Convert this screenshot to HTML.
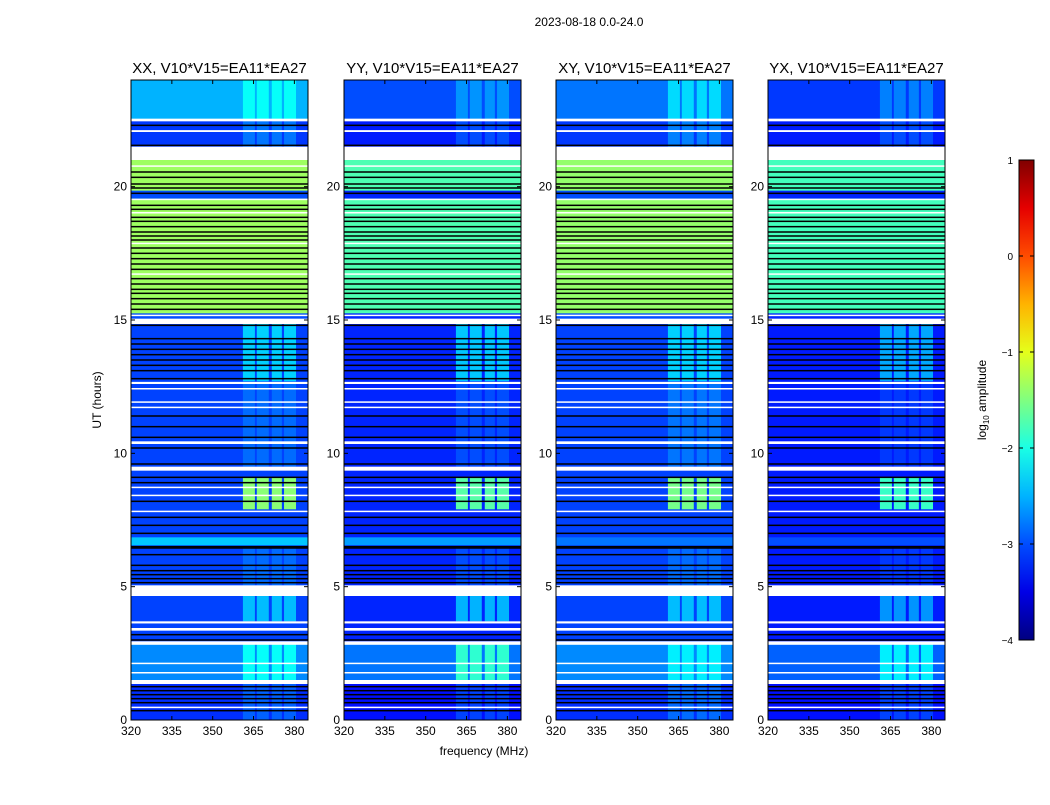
<!DOCTYPE html>
<html><head><meta charset="utf-8"><style>
body{margin:0;background:#fff;}
svg text{font-family:"Liberation Sans",sans-serif;}
</style></head><body>
<svg id="chart" width="1050" height="800" xmlns="http://www.w3.org/2000/svg">
<text x="589" y="26" font-size="12" text-anchor="middle">2023-08-18 0.0-24.0</text>
<text x="484" y="755" font-size="12" text-anchor="middle">frequency (MHz)</text>
<text x="101" y="400" font-size="12" text-anchor="middle" transform="rotate(-90 101 400)">UT (hours)</text>
</svg>
<script>
const panels=["XX, V10*V15=EA11*EA27","YY, V10*V15=EA11*EA27","XY, V10*V15=EA11*EA27","YX, V10*V15=EA11*EA27"];
const panelX=[131,344,556,768];
const xTicks=[320,335,350,365,380];
const yTicks=[0,5,10,15,20];
const cbTicks=[1,0,-1,-2,-3,-4];
// bands: [startHour,endHour, level XX, YY, XY, YX]
const bands=[
[0,24,-3.05,-3.2,-3.05,-3.25],
[22.5,24,-2.5,-3.0,-2.8,-3.1],
[21.5,22.5,-3.1,-3.25,-3.1,-3.25],
[15.2,21.0,-1.35,-1.75,-1.4,-1.8],
[19.55,19.85,-3.0,-3.2,-3.0,-3.2],
[15.0,15.25,-3.0,-3.2,-3.0,-3.2],
[6.55,6.85,-2.4,-2.6,-2.8,-3.0],
[1.5,2.9,-2.7,-2.8,-2.7,-2.9],
[0,1.4,-3.15,-3.3,-3.15,-3.3]
];
const gaps=[[22.45,22.55],[22.05,22.12],[21.0,21.5],[20.75,20.8],[19.5,19.55],[19.0,19.05],[17.85,17.9],[16.7,16.75],[15.15,15.2],[14.85,15.05],[12.6,12.68],[12.4,12.45],[11.9,11.95],[11.7,11.75],[10.35,10.45],[9.35,9.5],[8.7,8.75],[8.4,8.45],[7.8,7.85],[4.65,5.05],[3.62,3.7],[3.35,3.45],[2.82,2.95],[2.1,2.15],[1.75,1.8],[1.35,1.5],[0.45,0.5]];
const blackLines=[22.3,21.55,20.55,20.35,20.1,19.95,19.75,19.3,19.15,18.85,18.7,18.5,18.3,18.15,18.0,17.7,17.5,17.3,17.1,16.9,16.55,16.35,16.15,16.0,15.8,15.6,15.4,14.8,14.3,14.1,13.9,13.7,13.5,13.3,13.1,12.8,11.4,11.0,10.6,10.2,9.6,9.1,8.9,8.2,7.6,7.3,7.0,6.5,6.45,6.2,5.8,5.6,5.45,5.3,5.15,3.2,3.0,1.25,1.1,0.95,0.8,0.65,0.35];
// RFI columns (MHz) and boosted bands [h0,h1,boost XX,YY,XY,YX]
const rfiCols=[[361.1,365.5],[366.2,370.6],[371.7,375.4],[376.2,380.6]];
const rfiBands=[[22.5,24,0.4,0.35,0.5,0.35],[21.5,22.5,0.3,0.25,0.35,0.25],[12.7,14.85,0.7,0.8,0.7,0.7],[7.9,9.1,1.6,1.5,1.5,1.4],[3.7,4.65,0.6,0.7,0.6,0.6],[1.5,2.85,0.6,0.9,0.5,0.7],[0,1.4,0.25,0.25,0.3,0.25],[5.05,6.5,0.2,0.2,0.2,0.15],[9.5,12.6,0.2,0.2,0.25,0.15]];
const X0=320,X1=385,H0=0,H1=24,PW=177,PT=80,PH=640;
const NS="http://www.w3.org/2000/svg";
const svg=document.getElementById('chart');
function jet(v){const t=Math.max(0,Math.min(1,(v+4)/5));
const c=x=>Math.round(255*Math.max(0,Math.min(1,x)));
return `rgb(${c(1.5-Math.abs(4*t-3))},${c(1.5-Math.abs(4*t-2))},${c(1.5-Math.abs(4*t-1))})`;}
function xs(p,f){return panelX[p]+(f-X0)/(X1-X0)*PW;}
function ys(h){return PT+PH-(h-H0)/(H1-H0)*PH;}
function mk(tag,attrs,parent){const e=document.createElementNS(NS,tag);for(const k in attrs)e.setAttribute(k,attrs[k]);(parent||svg).appendChild(e);return e;}
panels.forEach((title,p)=>{
 const g=mk('g',{});
 
 
 bands.forEach(b=>{const r=mk('rect',{x:xs(p,X0),y:ys(b[1]),width:PW,height:ys(b[0])-ys(b[1]),fill:jet(b[2+p])},g);
  });
 rfiBands.forEach(rb=>{
  const base=bands.filter(b=>b[0]<=rb[0]&&b[1]>=rb[1]).pop();
  const lvl=(base?base[2+p]:-3.0)+rb[2+p];
  rfiCols.forEach(c=>{const r=mk('rect',{x:xs(p,c[0]),y:ys(rb[1]),width:xs(p,c[1])-xs(p,c[0]),height:ys(rb[0])-ys(rb[1]),fill:jet(lvl)},g);
   });
 });
 blackLines.forEach(h=>{const r=mk('rect',{x:xs(p,X0),y:ys(h)-0.75,width:PW,height:1.5,fill:'#000'},g);
  });
 gaps.forEach(gp=>{const r=mk('rect',{x:xs(p,X0),y:ys(gp[1]),width:PW,height:Math.max(1.5,ys(gp[0])-ys(gp[1])),fill:'#fff'},g);
  });
 const fr=mk('rect',{x:panelX[p],y:PT,width:PW,height:PH,fill:'none',stroke:'#000','stroke-width':1},g);
 
 const t=mk('text',{x:panelX[p]+PW/2,y:73,'font-size':15,'text-anchor':'middle'},g);t.textContent=title;
 
 xTicks.forEach(v=>{const x=xs(p,v);
  mk('line',{x1:x,x2:x,y1:PT+PH,y2:PT+PH-4,stroke:'#000'},g);mk('line',{x1:x,x2:x,y1:PT,y2:PT+4,stroke:'#000'},g);
  const l=mk('text',{x:x,y:PT+PH+15,'font-size':12,'text-anchor':'middle'},g);l.textContent=v;
  });
 yTicks.forEach(v=>{const y=ys(v);
  mk('line',{x1:panelX[p],x2:panelX[p]+4,y1:y,y2:y,stroke:'#000'},g);mk('line',{x1:panelX[p]+PW,x2:panelX[p]+PW-4,y1:y,y2:y,stroke:'#000'},g);
  const l=mk('text',{x:panelX[p]-4,y:y+4,'font-size':12,'text-anchor':'end'},g);l.textContent=v;
  });
});
// colorbar
const CBX=1019,CBW=15,CBT=160,CBH=480;
const defs=mk('defs',{});const grad=mk('linearGradient',{id:'jetg',x1:0,y1:1,x2:0,y2:0},defs);
for(let i=0;i<=10;i++){mk('stop',{offset:i/10,'stop-color':jet(-4+i*0.5)},grad);}
const cb=mk('rect',{x:CBX,y:CBT,width:CBW,height:CBH,fill:'url(#jetg)',stroke:'#000'});

cbTicks.forEach(v=>{const y=CBT+(1-v)/5*CBH;
 mk('line',{x1:CBX,x2:CBX+4,y1:y,y2:y,stroke:'#000'});mk('line',{x1:CBX+CBW,x2:CBX+CBW-4,y1:y,y2:y,stroke:'#000'});
 const l=mk('text',{x:1013,y:y+4,'font-size':10,'text-anchor':'end'});l.textContent=(v<0?'\u2212'+(-v):v);
 });
const cl=mk('text',{x:986,y:400,'font-size':12,'text-anchor':'middle',transform:'rotate(-90 986 400)'});
cl.innerHTML='log<tspan font-size="8" dy="3">10</tspan><tspan dy="-3"> amplitude</tspan>';

</script>
</body></html>
